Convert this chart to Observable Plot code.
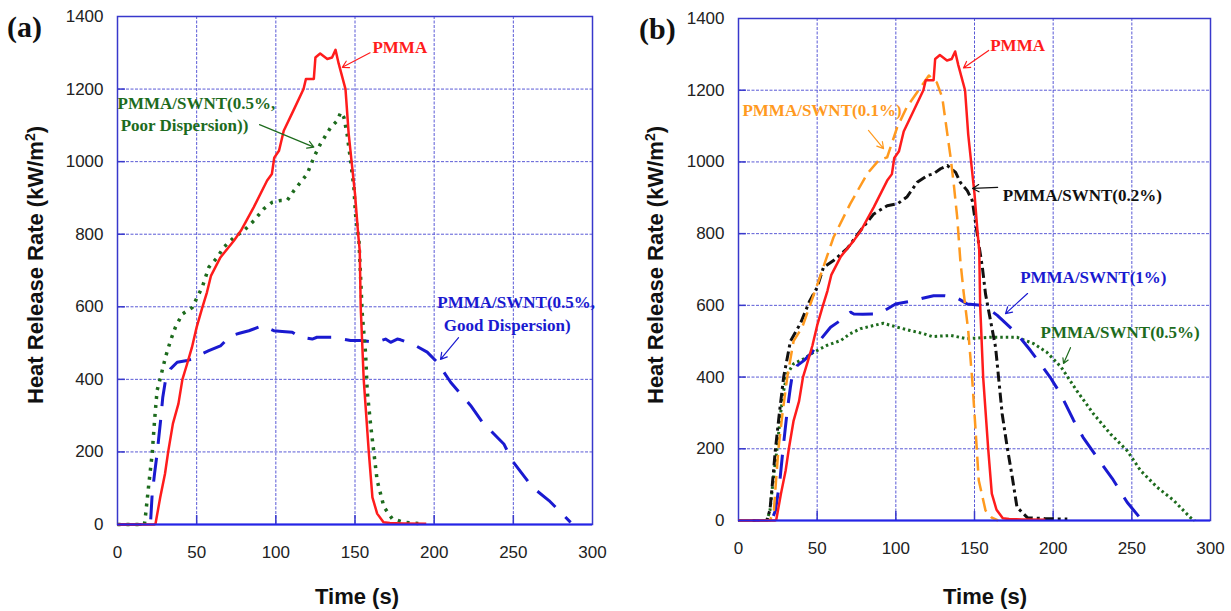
<!DOCTYPE html>
<html><head><meta charset="utf-8">
<script src="https://cdn.jsdelivr.net/npm/d3@7"></script>
<script src="https://cdn.jsdelivr.net/npm/@observablehq/plot@0.6"></script>
<style>
body{margin:0;background:#fff;}
#wrap{position:relative;width:1231px;height:611px;overflow:hidden;background:#fff;}
.panel{position:absolute;top:0;}
.ttl{position:absolute;font-family:"Liberation Sans",Arial,sans-serif;font-weight:bold;font-size:22px;color:#111;white-space:nowrap;line-height:1;}
.ttl sup{font-size:14px;vertical-align:0;position:relative;top:-8px;}
.ylab{transform:translate(-50%,-50%) rotate(-90deg);}
.xlab{transform:translate(-50%,-50%);}
.pl{position:absolute;font-family:"Liberation Serif","Times New Roman",serif;font-weight:bold;font-size:30px;color:#111;line-height:1;transform:translate(0,-50%);}
</style></head>
<body>
<div id="wrap">
  <div class="panel" id="pa" style="left:0px"></div>
  <div class="panel" id="pb" style="left:615px"></div>
  <div class="pl" style="left:7px;top:27px">(a)</div>
  <div class="pl" style="left:639px;top:29px">(b)</div>
  <div class="ttl ylab" style="left:36px;top:265px">Heat Release Rate (kW/m<sup>2</sup>)</div>
  <div class="ttl ylab" style="left:656px;top:265px">Heat Release Rate (kW/m<sup>2</sup>)</div>
  <div class="ttl xlab" style="left:357px;top:597px">Time (s)</div>
  <div class="ttl xlab" style="left:985px;top:597px">Time (s)</div>
</div>
<script>
// ---------- data ----------
const xTicks = [0, 50, 100, 150, 200, 250, 300];
const yTicks = [0, 200, 400, 600, 800, 1000, 1200, 1400];

// PMMA (same curve in both panels)
const pmmaT = [0, 23, 24, 27, 30, 32, 35, 38.5, 41, 44, 47, 50, 53.5, 56.5, 59, 65, 73.5, 78, 86, 94.5, 97.5, 99, 102, 105, 111, 117.5, 119, 124, 125, 128, 132.5, 135.5, 137.7, 139.7, 144, 146, 148, 150, 152, 153, 153.6, 155.5, 158.7, 161, 164, 168, 172, 180, 195];
const pmmaV = [0, 0, 2, 75, 140, 200, 278, 333, 400, 443, 488, 544, 597, 640, 685, 736, 782, 810, 874, 948, 966, 1011, 1030, 1085, 1140, 1200, 1228, 1228, 1287, 1298, 1283, 1287, 1308, 1270, 1200, 1077, 994, 911, 800, 755, 600, 400, 200, 75, 30, 6, 4, 3, 2];

// (a) PMMA/SWNT(0.5%, poor dispersion)
const poorT = [0, 17, 17.7, 19.8, 21.9, 23.4, 25, 27.2, 30.3, 33.5, 36.6, 40.9, 47.2, 50.3, 53.5, 57.7, 63, 67.1, 73.5, 79.8, 86.1, 92.4, 97.7, 103, 107.2, 111.4, 115.6, 119.8, 124, 128.2, 134.6, 138.8, 141, 143, 145, 147.2, 149.3, 150.3, 152.5, 154.6, 156.7, 157.7, 159.8, 162, 164, 168.3, 173.5, 180.9, 190];
const poorV = [0, 0, 25, 112, 195, 286, 369, 406, 461, 507, 544, 580, 598, 626, 654, 709, 736, 764, 791, 810, 837, 870, 888, 893, 893, 920, 943, 966, 1012, 1049, 1094, 1113, 1136, 1122, 1076, 1003, 929, 856, 782, 580, 470, 369, 277, 195, 121, 48, 16, 6, 3];

// (a) PMMA/SWNT(0.5%, good dispersion)
const goodT = [0, 20.8, 21.9, 23.4, 25, 27.2, 28.6, 30.3, 33.5, 37.7, 44, 47.2, 52, 57.7, 65, 71.4, 77, 83, 91.4, 98.7, 104, 110.4, 115.6, 123, 126, 131, 136.6, 147.2, 153.5, 158, 163, 169.3, 172.5, 176.7, 178.8, 188.3, 195.6, 202, 210.4, 223, 230.4, 244, 249.3, 262, 272.5, 286.2];
const goodV = [0, 0, 84, 140, 195, 286, 351, 397, 429, 447, 452, 456, 468, 479, 492, 520, 527, 534, 548, 534, 532, 530, 516, 511, 516, 516, 516, 507, 507, 505, 502, 511, 502, 511, 509, 493, 475, 447, 392, 328, 282, 222, 176, 103, 66, 6];

// (b) PMMA/SWNT(0.1%)
const s01T = [0, 20, 22.5, 24, 25.4, 28, 31, 35, 40.5, 45, 51, 60.4, 71, 81.8, 89, 94.5, 100.9, 107, 115.7, 121, 126, 129.5, 132.7, 134.8, 136.8, 139, 141, 143, 146, 148.6, 150.7, 152.7, 157, 161, 165];
const s01V = [0, 0, 28, 120, 200, 300, 400, 500, 539, 595, 669, 790, 883, 967, 1004, 1013, 1097, 1153, 1208, 1241, 1222, 1180, 1079, 1013, 939, 846, 725, 640, 530, 390, 251, 112, 28, 8, 0];

// (b) PMMA/SWNT(0.2%)
const s02T = [0, 18, 20, 21.5, 23.5, 26, 28.7, 33, 39.4, 45, 50, 54, 60.4, 69, 77.6, 86, 94.5, 101, 107, 113.6, 120, 124, 128.4, 132.7, 138, 141, 145.4, 148.6, 151.7, 155, 157, 159, 163.4, 165.5, 167.6, 170.8, 174, 177, 183.6, 195, 209];
const s02V = [0, 0, 30, 100, 200, 300, 400, 500, 550, 610, 650, 706, 725, 758, 809, 855, 878, 883, 902, 943, 962, 967, 981, 990, 971, 943, 920, 892, 800, 706, 632, 585, 483, 390, 297, 204, 121, 37, 8, 5, 4];

// (b) PMMA/SWNT(1%)
const s1T = [0, 21, 23.5, 26.3, 28.4, 31, 33, 34, 37.3, 41.5, 46.8, 50, 58.5, 64.8, 71.2, 73.3, 79, 85, 89, 94.5, 99.8, 105, 111.4, 117, 124, 131, 138, 145.4, 154, 159, 164.5, 177, 185.6, 198, 204.7, 213, 219, 230, 237.6, 247, 255.6, 258];
const s1V = [0, 0, 28, 111, 204, 307, 372, 400, 432, 446, 469, 493, 539, 558, 581, 576, 575, 576, 576, 590, 604, 608, 613, 620, 627, 627, 623, 604, 600, 590, 572, 521, 474, 400, 353, 279, 232, 163, 117, 51, 5, 0];

// (b) PMMA/SWNT(0.5%)
const s05T = [0, 18, 20, 22, 24.6, 26.7, 28.7, 31, 35, 41.5, 47.7, 56, 65, 71, 77.6, 86, 92, 101, 109, 117.6, 123, 135, 145, 160, 177, 187.7, 196, 205, 215, 225.7, 236.5, 247, 255.6, 266, 276.6, 287, 290];
const s05V = [0, 0, 28, 111, 204, 297, 362, 409, 437, 451, 469, 488, 502, 521, 535, 544, 550, 539, 530, 521, 513, 516, 507, 511, 511, 493, 469, 428, 362, 297, 241, 195, 139, 93, 56, 9, 0];

// annotation labels (data units: t, v)
const labelsA = [
  {t: 161, v: 1314, text: "PMMA", key: "pmma"},
  {t: 0, v: 1160, text: "PMMA/SWNT(0.5%,", key: "poor"},
  {t: 2, v: 1099, text: "Poor Dispersion))", key: "poor"},
  {t: 202, v: 612, text: "PMMA/SWNT(0.5%,", key: "good"},
  {t: 206, v: 548, text: "Good Dispersion)", key: "good"}
];
const arrowsA = [
  {t1: 159.5, v1: 1300, t2: 142, v2: 1260, key: "pmma"},
  {t1: 89.7, v1: 1102, t2: 124, v2: 1040, key: "poor"},
  {t1: 215.4, v1: 515, t2: 204, v2: 455, key: "good"}
];
const labelsB = [
  {t: 160, v: 1325, text: "PMMA", key: "pmma"},
  {t: 2.5, v: 1143, text: "PMMA/SWNT(0.1%)", key: "s01"},
  {t: 168, v: 906, text: "PMMA/SWNT(0.2%)", key: "s02"},
  {t: 179, v: 678, text: "PMMA/SWNT(1%)", key: "s1"},
  {t: 192, v: 524, text: "PMMA/SWNT(0.5%)", key: "s05"}
];
const arrowsB = [
  {t1: 159, v1: 1311, t2: 143, v2: 1262, key: "pmma"},
  {t1: 82.6, v1: 1088, t2: 92.2, v2: 1037, key: "s01"},
  {t1: 164.7, v1: 929, t2: 148.8, v2: 926, key: "s02"},
  {t1: 183.7, v1: 633, t2: 169.7, v2: 577, key: "s1"},
  {t1: 211, v1: 482, t2: 206.6, v2: 438, key: "s05"}
];

// ---------- styles ----------
const col = {pmma: "#ff1c1c", poor: "#1d6b1d", good: "#1a1ad0", s01: "#ff9a1f", s02: "#111111", s1: "#1a1ad0", s05: "#1d6b1d"};
const rows = (T, V) => T.map((t, i) => ({t, v: V[i]}));
const gridCol = "#5a5ad6";
const frameCol = "#3838cc";

function panel({width, ml, mr, mt, mb, series, labels, arrows}) {
  const gx = xTicks.slice(1, -1), gy = yTicks.slice(1, -1);
  return Plot.plot({
    width, height: 611,
    marginLeft: ml, marginRight: mr, marginTop: mt, marginBottom: mb,
    style: {background: "transparent", fontFamily: "'Liberation Sans', Arial, sans-serif", overflow: "visible"},
    x: {domain: [0, 300]},
    y: {domain: [0, 1400]},
    marks: [
      Plot.ruleX(gx, {stroke: gridCol, strokeWidth: 1, strokeDasharray: "3,1.5"}),
      Plot.ruleY(gy, {stroke: gridCol, strokeWidth: 1, strokeDasharray: "3,1.5"}),
      Plot.ruleY(gy, {x1: 0, x2: 5, stroke: frameCol, strokeWidth: 1.5}),
      Plot.ruleX(gx, {y1: 0, y2: 25, stroke: frameCol, strokeWidth: 1.5}),
      Plot.frame({stroke: frameCol, strokeWidth: 1.5}),
      ...series.map(s => Plot.line(rows(s.T, s.V), {x: "t", y: "v", stroke: col[s.key], strokeWidth: s.w, strokeDasharray: s.dash, strokeLinecap: "butt", strokeLinejoin: "round"})),
      Plot.ruleY([0], {stroke: "#2424e8", strokeWidth: 2}),
      Plot.axisX({ticks: xTicks, tickSize: 0, tickPadding: 21, fontSize: 17, fill: "#222", label: null}),
      Plot.axisY({ticks: yTicks, tickSize: 0, tickPadding: 14, fontSize: 17, fill: "#222", label: null, tickFormat: d => String(d)}),
      Plot.arrow(arrows, {x1: "t1", y1: "v1", x2: "t2", y2: "v2", stroke: d => col[d.key], strokeWidth: 1.2, headLength: 9}),
      Plot.text(labels, {x: "t", y: "v", text: "text", fill: d => col[d.key], textAnchor: "start", fontFamily: "'Liberation Serif', 'Times New Roman', serif", fontWeight: "bold", fontSize: 17})
    ]
  });
}

const seriesA = [
  {T: goodT, V: goodV, key: "good", w: 3, dash: "24,14"},
  {T: poorT, V: poorV, key: "poor", w: 3.5, dash: "3,6"},
  {T: pmmaT, V: pmmaV, key: "pmma", w: 2.5, dash: null}
];
const seriesB = [
  {T: s05T, V: s05V, key: "s05", w: 3, dash: "2.5,3"},
  {T: s1T, V: s1V, key: "s1", w: 3, dash: "24,14"},
  {T: s02T, V: s02V, key: "s02", w: 3, dash: "10,4,3,4"},
  {T: s01T, V: s01V, key: "s01", w: 2.5, dash: "14,7"},
  {T: pmmaT, V: pmmaV, key: "pmma", w: 2.5, dash: null}
];

document.getElementById("pa").appendChild(panel({width: 615, ml: 117, mr: 23, mt: 16, mb: 87, series: seriesA, labels: labelsA, arrows: arrowsA}));
document.getElementById("pb").appendChild(panel({width: 616, ml: 123, mr: 21, mt: 18, mb: 91, series: seriesB, labels: labelsB, arrows: arrowsB}));
</script>
</body></html>
